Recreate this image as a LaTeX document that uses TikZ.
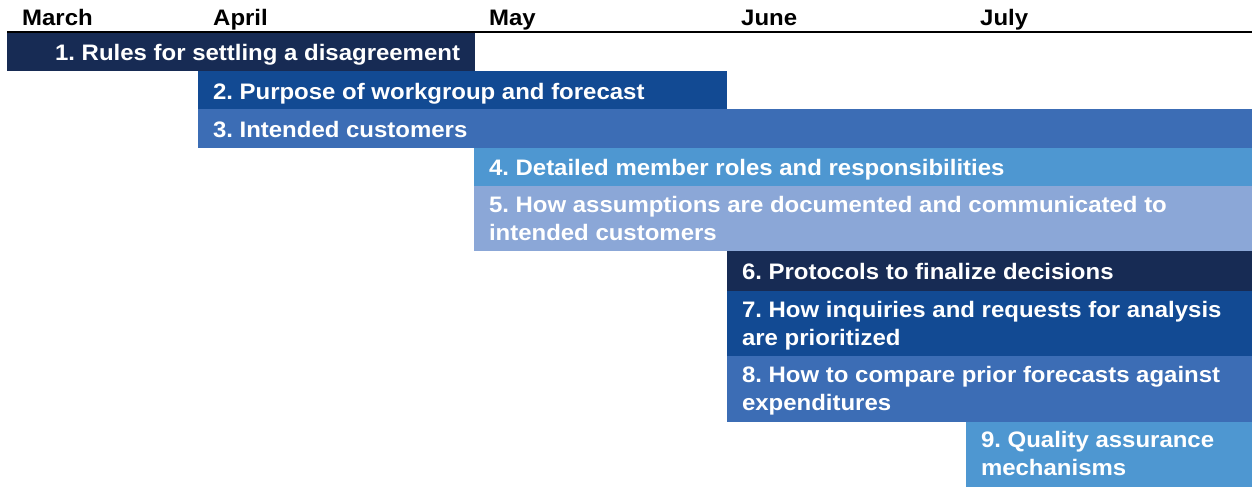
\documentclass[tikz,border=0pt]{standalone}
\usepackage{fontspec}
\setmainfont{Liberation Sans}[FakeStretch=1.07]
\frenchspacing
\definecolor{cA}{HTML}{172B54}
\definecolor{cB}{HTML}{124A93}
\definecolor{cC}{HTML}{3C6DB5}
\definecolor{cD}{HTML}{4E97D1}
\definecolor{cE}{HTML}{8BA7D7}
\newcommand{\topstrut}{\rule{0pt}{18pt}}
\begin{document}
\begin{tikzpicture}[x=1pt,y=-1pt,
  lbl/.style={text=white, font=\frenchspacing\bfseries\fontsize{22.4}{27.3}\selectfont,
    inner sep=0pt, anchor=north west, align=left, outer sep=0pt},
  month/.style={font=\bfseries\fontsize{22.4}{27.3}\selectfont, anchor=base west, inner sep=0pt}]
\useasboundingbox (0,0) rectangle (1252,487);
\node[month] (m1) at (22,26) {March};
\node[month] (m2) at (213,26) {April};
\node[month] (m3) at (489,26) {May};
\node[month] (m4) at (741,26) {June};
\node[month] (m5) at (980,26) {July};
\coordinate (l1) at (7,32);
\coordinate (l2) at (1252,32);
\draw[line width=2pt] (l1) -- (l2);
% bars
\fill[cA] (7,33) rectangle (475,71);
\fill[cB] (198,71) rectangle (727,109);
\fill[cC] (198,109) rectangle (1252,148);
\fill[cD] (474,148) rectangle (1252,186);
\fill[cE] (474,186) rectangle (1252,251);
\fill[cA] (727,251) rectangle (1252,290.5);
\fill[cB] (727,290.5) rectangle (1252,356);
\fill[cC] (727,356) rectangle (1252,421.5);
\fill[cD] (966,421.5) rectangle (1252,487);
% labels
\node[lbl, anchor=north east, align=right] (b1) at (460,42) {\topstrut 1. Rules for settling a disagreement};
\node[lbl] (b2) at (213,81) {\topstrut 2. Purpose of workgroup and forecast};
\node[lbl] (b3) at (213,119.3) {\topstrut 3. Intended customers};
\node[lbl] (b4) at (489,157.5) {\topstrut 4. Detailed member roles and responsibilities};
\node[lbl] (b5) at (489,194.7) {\topstrut 5. How assumptions are documented and communicated to\\intended customers};
\node[lbl] (b6) at (742,261) {\topstrut 6. Protocols to finalize decisions};
\node[lbl] (b7) at (742,299.7) {\topstrut 7. How inquiries and requests for analysis\\are prioritized};
\node[lbl] (b8) at (742,364.7) {\topstrut 8. How to compare prior forecasts against\\expenditures};
\node[lbl] (b9) at (981,429.7) {\topstrut 9. Quality assurance\\mechanisms};
\end{tikzpicture}
\end{document}
